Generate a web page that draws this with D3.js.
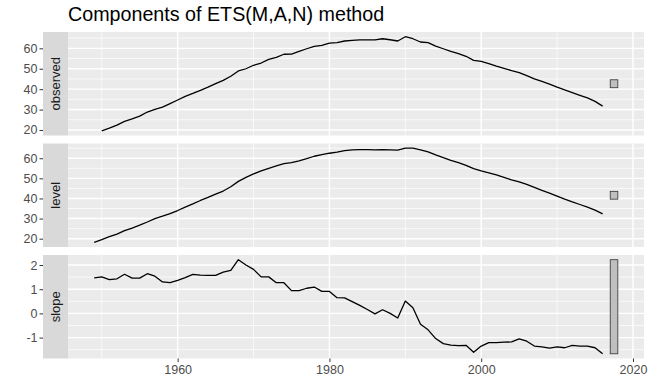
<!DOCTYPE html>
<html>
<head>
<meta charset="utf-8">
<script src="https://cdn.jsdelivr.net/npm/d3@7"></script>
<style>
  body { margin: 0; background: #fff; }
  text { font-family: "Liberation Sans", Arial, sans-serif; }
</style>
</head>
<body>
<svg width="657" height="392"></svg>
<script>
// data
var startYear = 1949;   // level and slope start here, observed one year later
var observed = [19.6, 20.9, 22.4, 24.2, 25.4, 26.8, 28.8, 30.1, 31.2, 32.9,
  34.7, 36.5, 37.9, 39.4, 41.0, 42.7, 44.3, 46.3, 48.9, 50.0,
  51.7, 52.8, 54.6, 55.6, 57.1, 57.2, 58.5, 59.8, 61.0, 61.5,
  62.6, 62.8, 63.6, 63.9, 64.1, 64.1, 64.1, 64.7, 64.2, 63.6,
  65.7, 64.7, 63.1, 62.8, 61.1, 59.8, 58.5, 57.4, 56.1, 54.1,
  53.6, 52.5, 51.3, 50.2, 49.1, 48.1, 46.6, 45.0, 43.8, 42.5,
  41.0, 39.6, 38.3, 37.0, 35.7, 34.0, 31.7];
var level = [18.2, 19.5, 21.0, 22.3, 24.0, 25.3, 26.7, 28.3, 30.0, 31.2,
  32.5, 34.0, 35.7, 37.3, 39.0, 40.5, 42.2, 43.7, 45.8, 48.5,
  50.5, 52.2, 53.7, 55.0, 56.2, 57.3, 57.8, 58.7, 59.8, 61.0,
  61.8, 62.5, 63.0, 63.8, 64.2, 64.3, 64.3, 64.2, 64.3, 64.2,
  64.0, 65.0, 65.0, 64.2, 63.2, 61.7, 60.3, 59.0, 57.8, 56.5,
  54.8, 53.7, 52.7, 51.7, 50.5, 49.2, 48.2, 47.0, 45.5, 44.0,
  42.7, 41.2, 39.7, 38.3, 37.0, 35.7, 34.2, 32.3];
var slope = [1.47, 1.51, 1.40, 1.43, 1.62, 1.46, 1.46, 1.64, 1.54, 1.30,
  1.27, 1.37, 1.48, 1.61, 1.58, 1.57, 1.57, 1.71, 1.78, 2.22,
  2.00, 1.82, 1.51, 1.51, 1.27, 1.27, 0.94, 0.94, 1.04, 1.09,
  0.91, 0.91, 0.65, 0.64, 0.49, 0.33, 0.16, -0.02, 0.15, 0.00,
  -0.19, 0.51, 0.23, -0.45, -0.68, -1.04, -1.25, -1.31, -1.33, -1.32,
  -1.61, -1.35, -1.21, -1.21, -1.19, -1.18, -1.05, -1.15, -1.35, -1.38,
  -1.44, -1.38, -1.42, -1.32, -1.35, -1.35, -1.42, -1.67];
var panelNames = ['observed', 'level', 'slope'];
var yTicks = [[20, 30, 40, 50, 60], [20, 30, 40, 50, 60], [-1, 0, 1, 2]];
var yMinor = [[25, 35, 45, 55, 65], [25, 35, 45, 55, 65], [-1.5, -0.5, 0.5, 1.5]];
var xTicks = [1960, 1980, 2000, 2020];
var xMinor = [1950, 1970, 1990, 2010];
var barYears = [2017, 2018];
var title = 'Components of ETS(M,A,N) method';

var svg = d3.select('svg');
var margin = {l: 68, r: 13, t: 32};
var stripW = 25;
var panelH = 103.5, gap = 8;
var plotW = 657 - margin.l - margin.r;
var font = '"Liberation Sans", Arial, sans-serif';

var series = [
  observed.map(function(v, i) { return {year: startYear + 1 + i, value: v}; }),
  level.map(function(v, i) { return {year: startYear + i, value: v}; }),
  slope.map(function(v, i) { return {year: startYear + i, value: v}; })
];

// the scale bars all have the height of the smallest data range
var ranges = series.map(function(s) { return d3.extent(s, function(d) { return d.value; }); });
var barH = d3.min(ranges, function(r) { return r[1] - r[0]; });

function expand(dom) {
  var r = dom[1] - dom[0];
  return [dom[0] - 0.05 * r, dom[1] + 0.05 * r];
}

var x = d3.scaleLinear()
  .domain(expand([startYear, barYears[1]]))
  .range([0, plotW]);

svg.append('text')
  .attr('x', margin.l)
  .attr('y', 21)
  .attr('font-size', 19.7)
  .attr('fill', '#000')
  .text(title);

var line = d3.line()
  .x(function(d) { return x(d.year); });

series.forEach(function(s, i) {
  var top = margin.t + i * (panelH + gap);
  var mid = (ranges[i][0] + ranges[i][1]) / 2;
  var y = d3.scaleLinear()
    .domain(expand(d3.extent(ranges[i].concat([mid - barH / 2, mid + barH / 2]))))
    .range([panelH, 0]);

  // strip
  var strip = svg.append('g').attr('transform', 'translate(' + (margin.l - stripW) + ',' + top + ')');
  strip.append('rect')
    .attr('width', stripW)
    .attr('height', panelH)
    .attr('fill', '#D9D9D9');
  strip.append('text')
    .attr('transform', 'translate(' + (stripW / 2 + 4.5) + ',' + (panelH / 2) + ') rotate(-90)')
    .attr('text-anchor', 'middle')
    .attr('font-size', 13)
    .attr('fill', '#1A1A1A')
    .text(panelNames[i]);

  var g = svg.append('g').attr('transform', 'translate(' + margin.l + ',' + top + ')');
  g.append('rect')
    .attr('width', plotW)
    .attr('height', panelH)
    .attr('fill', '#EBEBEB');

  // grid
  g.selectAll('.ymin').data(yMinor[i]).enter().append('line')
    .attr('x1', 0).attr('x2', plotW)
    .attr('y1', function(d) { return y(d); }).attr('y2', function(d) { return y(d); })
    .attr('stroke', '#fff').attr('stroke-width', 0.7);
  g.selectAll('.xmin').data(xMinor).enter().append('line')
    .attr('y1', 0).attr('y2', panelH)
    .attr('x1', function(d) { return x(d); }).attr('x2', function(d) { return x(d); })
    .attr('stroke', '#fff').attr('stroke-width', 0.7);
  g.selectAll('.ymaj').data(yTicks[i]).enter().append('line')
    .attr('x1', 0).attr('x2', plotW)
    .attr('y1', function(d) { return y(d); }).attr('y2', function(d) { return y(d); })
    .attr('stroke', '#fff').attr('stroke-width', 1.4);
  g.selectAll('.xmaj').data(xTicks).enter().append('line')
    .attr('y1', 0).attr('y2', panelH)
    .attr('x1', function(d) { return x(d); }).attr('x2', function(d) { return x(d); })
    .attr('stroke', '#fff').attr('stroke-width', 1.4);

  line.y(function(d) { return y(d.value); });
  g.append('path')
    .datum(s)
    .attr('d', line)
    .attr('fill', 'none')
    .attr('stroke', '#000')
    .attr('stroke-width', 1.3)
    .attr('stroke-linejoin', 'round');

  g.append('rect')
    .attr('x', x(barYears[0]))
    .attr('width', x(barYears[1]) - x(barYears[0]))
    .attr('y', y(mid + barH / 2))
    .attr('height', y(mid - barH / 2) - y(mid + barH / 2))
    .attr('fill', '#BFBFBF')
    .attr('stroke', '#333')
    .attr('stroke-width', 0.8);

  // y axis sits left of the strip
  var yAxis = svg.append('g')
    .attr('transform', 'translate(' + (margin.l - stripW) + ',' + top + ')')
    .call(d3.axisLeft(y).tickValues(yTicks[i]).tickFormat(function(d) { return String(d); })
      .tickSize(3.5).tickPadding(2));
  yAxis.select('.domain').remove();
  yAxis.selectAll('line').attr('stroke', '#333');
  yAxis.selectAll('text').attr('fill', '#4D4D4D').attr('font-size', 12.5)
    .style('font-family', font);

  if (i === series.length - 1) {
    var xAxis = svg.append('g')
      .attr('transform', 'translate(' + margin.l + ',' + (top + panelH) + ')')
      .call(d3.axisBottom(x).tickValues(xTicks).tickFormat(d3.format('d')).tickSize(3.5).tickPadding(3));
    xAxis.select('.domain').remove();
    xAxis.selectAll('line').attr('stroke', '#333');
    xAxis.selectAll('text').attr('fill', '#4D4D4D').attr('font-size', 12.5)
      .style('font-family', font);
  }
});
</script>
</body>
</html>
